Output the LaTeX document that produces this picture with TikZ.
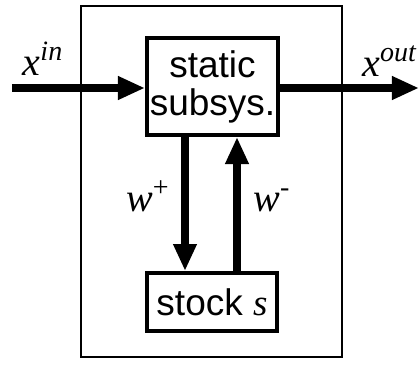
\documentclass[tikz,border=0pt]{standalone}
\usepackage{fontspec}
\setmainfont{Liberation Sans}
\newfontfamily\tmsfont{Liberation Serif}
\usetikzlibrary{arrows.meta}
\begin{document}
\begin{tikzpicture}[x=0.5pt,y=-0.5pt,
  blk/.style={draw,line width=2pt,inner sep=0pt,font=\fontsize{18.5}{19}\selectfont,align=center},
  flow/.style={line width=4pt,-{Triangle[length=13.5pt,width=11pt]}},
  lbl/.style={font=\fontsize{20}{20}\tmsfont\itshape,inner sep=0pt}]
\useasboundingbox (0,0) rectangle (419,365);
\draw[line width=1pt] (81,6) rectangle (342,357);
\node[blk,minimum width=65.5pt,minimum height=48.5pt] (stat) at (212.5,86.5) {static\\subsys.};
\node[blk,minimum width=65pt,minimum height=29pt] (stock) at (212,302) {stock {\tmsfont\itshape s}};
\coordinate (in) at (12,88);
\coordinate (out) at (419,88);
\coordinate (dn) at (185,0);
\coordinate (up) at (237,0);
\draw[flow] (in) -- (in -| stat.west);
\draw[flow] (out -| stat.east) -- (out);
\draw[flow] (dn |- stat.south) -- (dn |- stock.north);
\draw[flow] (up |- stock.north) -- (up |- stat.south);
\node[lbl] (xin) at (43,59) {x\textsuperscript{in}};
\node[lbl,anchor=west] (xout) at (362,61) {x\textsuperscript{out}};
\node[lbl] (wp) at (148,196) {w\textsuperscript{\upshape +}};
\node[lbl] (wm) at (272,200) {w\textsuperscript{\upshape -}};
\end{tikzpicture}
\end{document}
